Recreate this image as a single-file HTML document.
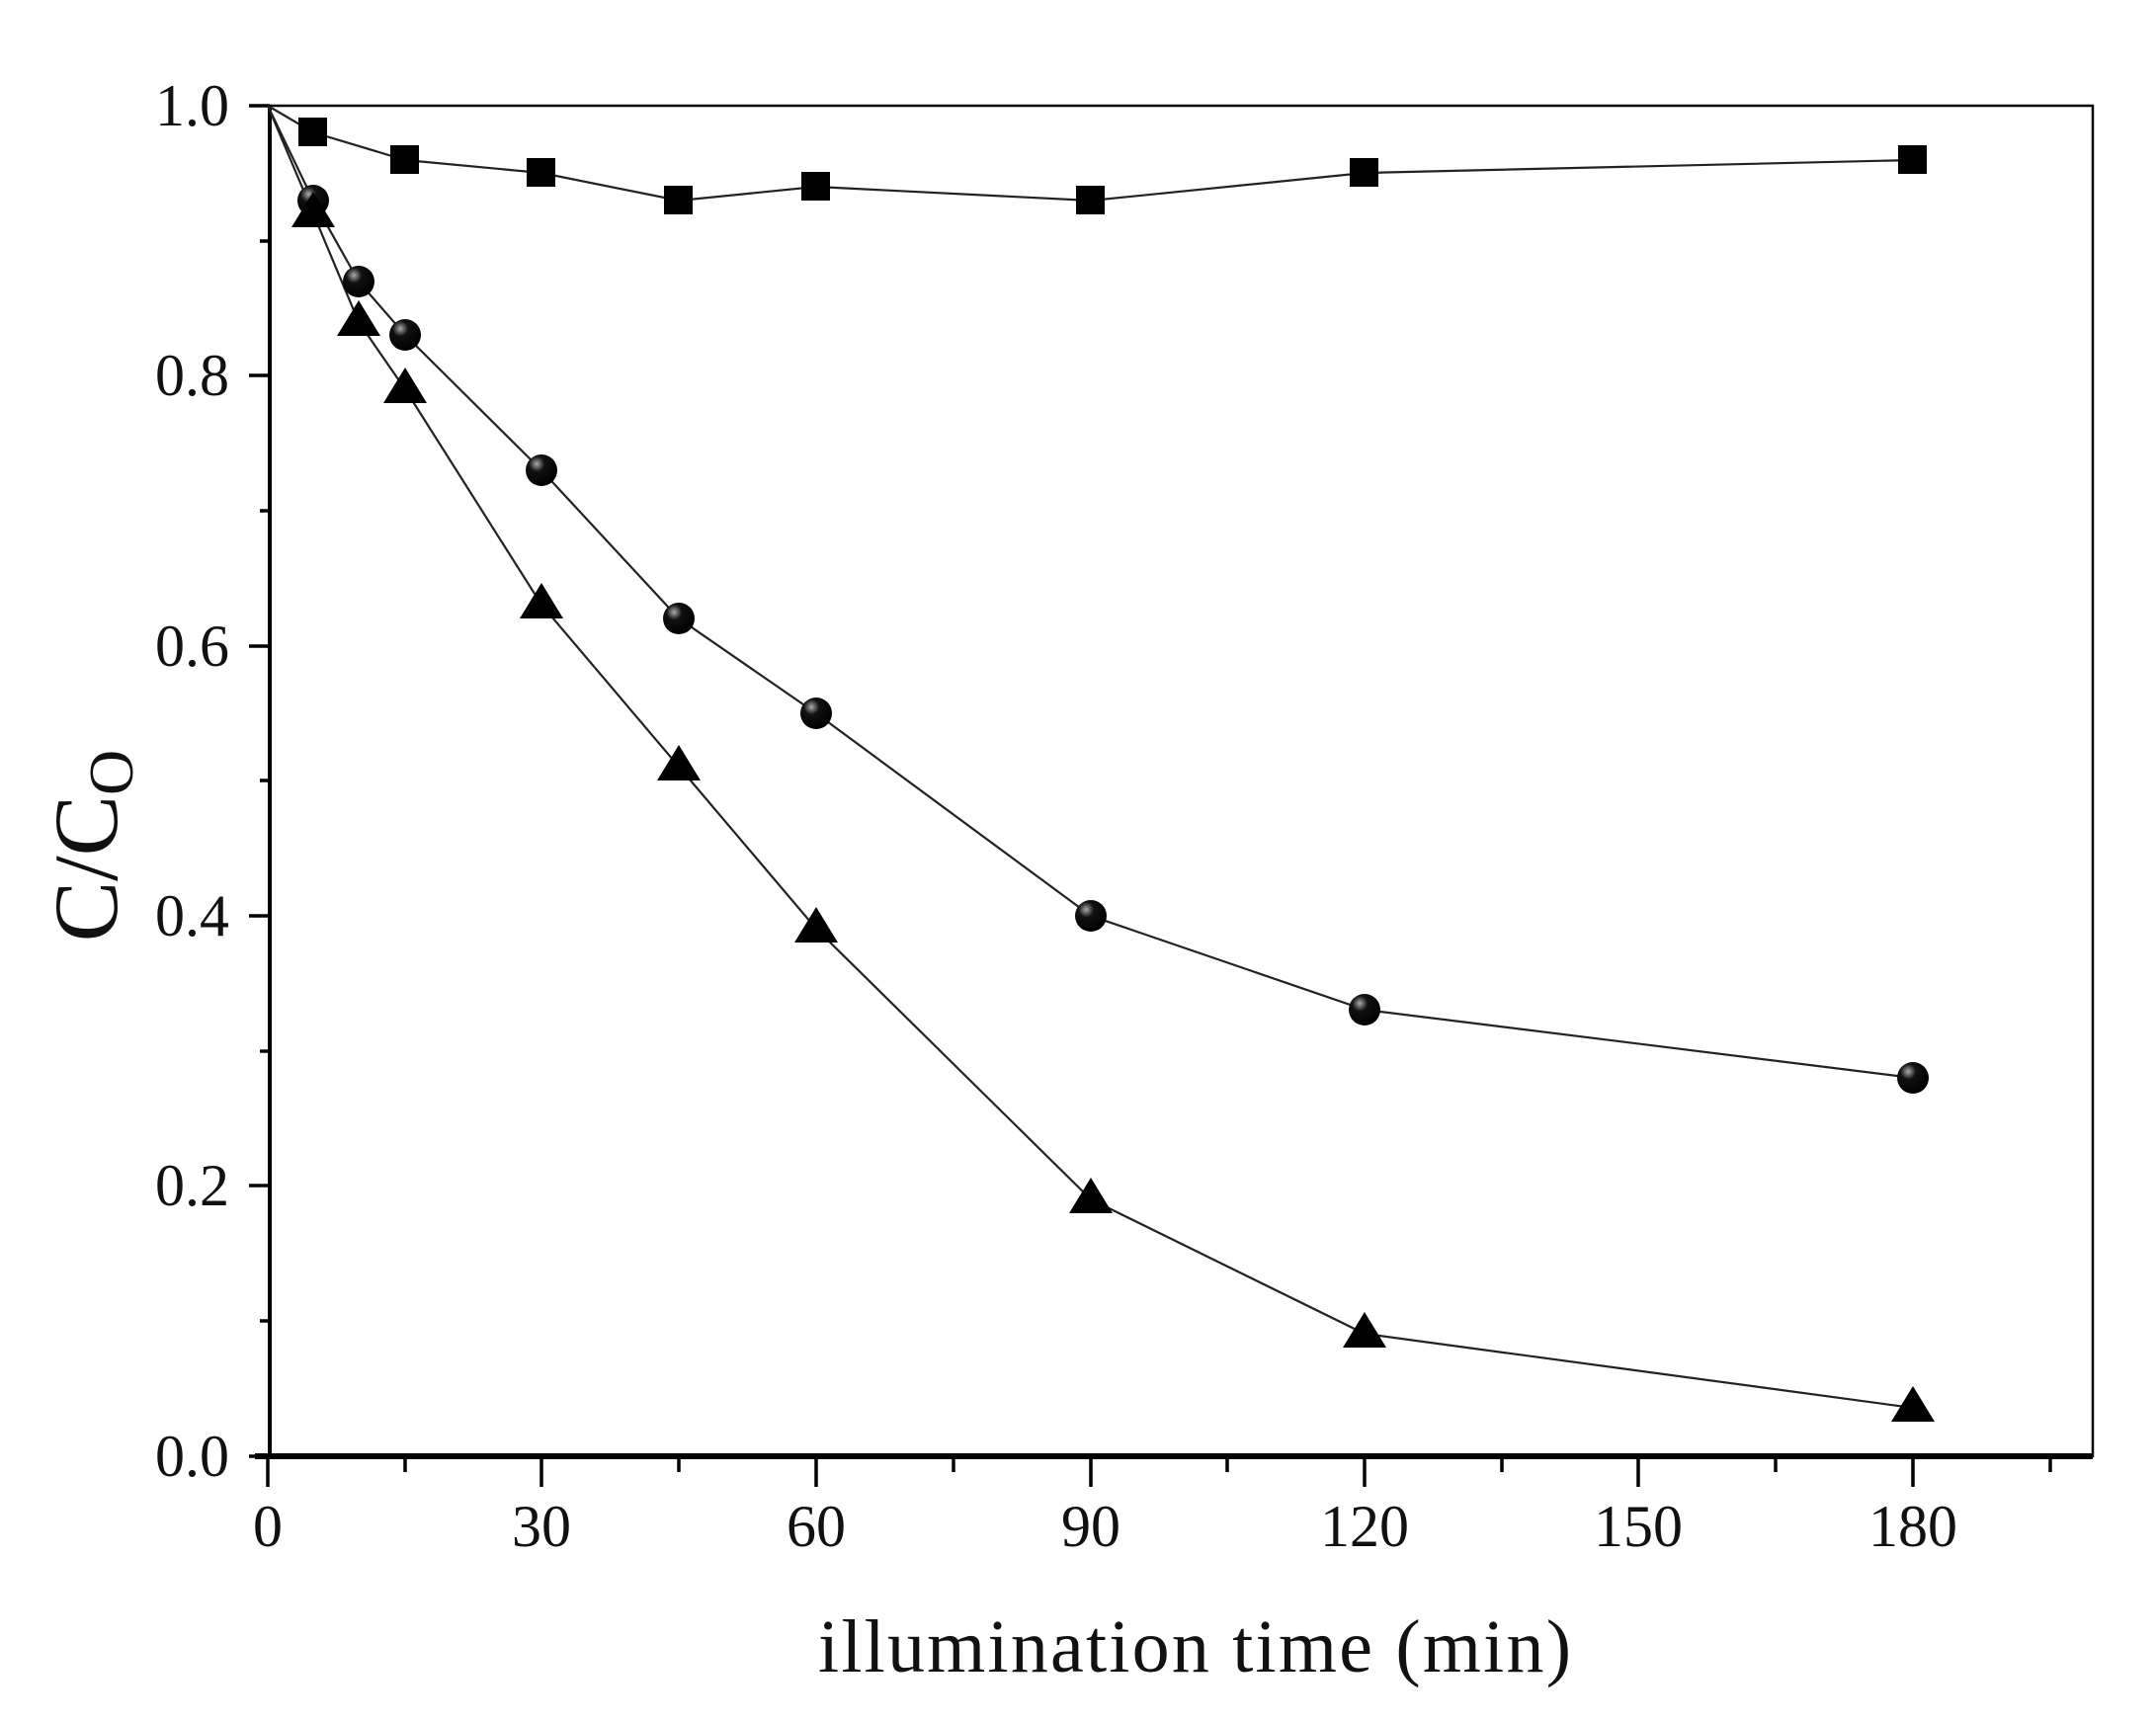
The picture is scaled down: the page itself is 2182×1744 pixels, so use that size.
<!DOCTYPE html>
<html><head><meta charset="utf-8"><style>html,body{margin:0;padding:0;background:#fff}svg{display:block}</style></head>
<body>
<svg width="2182" height="1744" viewBox="0 0 2182 1744" xmlns="http://www.w3.org/2000/svg" font-family="Liberation Serif, serif" fill="#111">
<defs>
<radialGradient id="g" cx="0.35" cy="0.3" r="0.7"><stop offset="0" stop-color="#aaa"/><stop offset="0.35" stop-color="#111"/><stop offset="1" stop-color="#000"/></radialGradient>
</defs>
<rect x="273" y="107" width="1845" height="1367" fill="none" stroke="#000" stroke-width="2.5"/>
<line x1="273" y1="107" x2="273" y2="1474" stroke="#000" stroke-width="4"/>
<line x1="258" y1="1474" x2="2118" y2="1474" stroke="#000" stroke-width="6"/>
<g stroke="#000" stroke-width="3.5">
<line x1="271" y1="1474" x2="271" y2="1505"/><line x1="548" y1="1474" x2="548" y2="1505"/><line x1="826" y1="1474" x2="826" y2="1505"/><line x1="1104" y1="1474" x2="1104" y2="1505"/><line x1="1381" y1="1474" x2="1381" y2="1505"/><line x1="1658" y1="1474" x2="1658" y2="1505"/><line x1="1936" y1="1474" x2="1936" y2="1505"/>
<line x1="410" y1="1474" x2="410" y2="1490"/><line x1="687" y1="1474" x2="687" y2="1490"/><line x1="965" y1="1474" x2="965" y2="1490"/><line x1="1242" y1="1474" x2="1242" y2="1490"/><line x1="1520" y1="1474" x2="1520" y2="1490"/><line x1="1797" y1="1474" x2="1797" y2="1490"/><line x1="2075" y1="1474" x2="2075" y2="1490"/>
<line x1="252" y1="107" x2="273" y2="107"/><line x1="252" y1="380" x2="273" y2="380"/><line x1="252" y1="654" x2="273" y2="654"/><line x1="252" y1="927" x2="273" y2="927"/><line x1="252" y1="1200" x2="273" y2="1200"/><line x1="252" y1="1474" x2="273" y2="1474"/>
<line x1="263" y1="244" x2="273" y2="244"/><line x1="263" y1="517" x2="273" y2="517"/><line x1="263" y1="790" x2="273" y2="790"/><line x1="263" y1="1064" x2="273" y2="1064"/><line x1="263" y1="1337" x2="273" y2="1337"/>
</g>
<g font-size="60" text-anchor="middle">
<text x="271" y="1565">0</text><text x="548" y="1565">30</text><text x="826" y="1565">60</text><text x="1104" y="1565">90</text><text x="1381" y="1565">120</text><text x="1658" y="1565">150</text><text x="1936" y="1565">180</text>
</g>
<g font-size="60" text-anchor="end">
<text x="232" y="127">1.0</text><text x="232" y="400">0.8</text><text x="232" y="674">0.6</text><text x="232" y="947">0.4</text><text x="232" y="1220">0.2</text><text x="232" y="1494">0.0</text>
</g>
<text x="828" y="1692" font-size="76" textLength="762" lengthAdjust="spacing">illumination time (min)</text>
<text transform="translate(118,856) rotate(-90)" font-size="92" text-anchor="middle">C/C<tspan font-size="64" dy="16">O</tspan></text>
<g fill="none" stroke="#222" stroke-width="2.2">
<polyline points="271,107 317,134 410,162 548,175 687,203 826,189 1104,203 1381,175 1936,162"/>
<polyline points="271,107 317,203 363,285 410,339 548,476 687,626 826,722 1104,927 1381,1022 1936,1091"/>
<polyline points="271,107 317,216 363,326 410,394 548,612 687,776 826,940 1104,1214 1381,1350 1936,1425"/>
</g>
<g fill="#000">
<rect x="302" y="119" width="29" height="29"/><rect x="395" y="147" width="29" height="29"/><rect x="533" y="160" width="29" height="29"/><rect x="672" y="188" width="29" height="29"/><rect x="811" y="174" width="29" height="29"/><rect x="1089" y="188" width="29" height="29"/><rect x="1366" y="160" width="29" height="29"/><rect x="1921" y="147" width="29" height="29"/>
</g>
<g fill="url(#g)">
<circle cx="317" cy="203" r="16"/><circle cx="363" cy="285" r="16"/><circle cx="410" cy="339" r="16"/><circle cx="548" cy="476" r="16"/><circle cx="687" cy="626" r="16"/><circle cx="826" cy="722" r="16"/><circle cx="1104" cy="927" r="16"/><circle cx="1381" cy="1022" r="16"/><circle cx="1936" cy="1091" r="16"/>
</g>
<g fill="#000">
<polygon points="317,194 339,230 295,230"/><polygon points="363,304 385,340 341,340"/><polygon points="410,372 432,408 388,408"/><polygon points="548,590 570,626 526,626"/><polygon points="687,754 709,790 665,790"/><polygon points="826,918 848,954 804,954"/><polygon points="1104,1192 1126,1228 1082,1228"/><polygon points="1381,1328 1403,1364 1359,1364"/><polygon points="1936,1403 1958,1439 1914,1439"/>
</g>
</svg>
</body></html>
